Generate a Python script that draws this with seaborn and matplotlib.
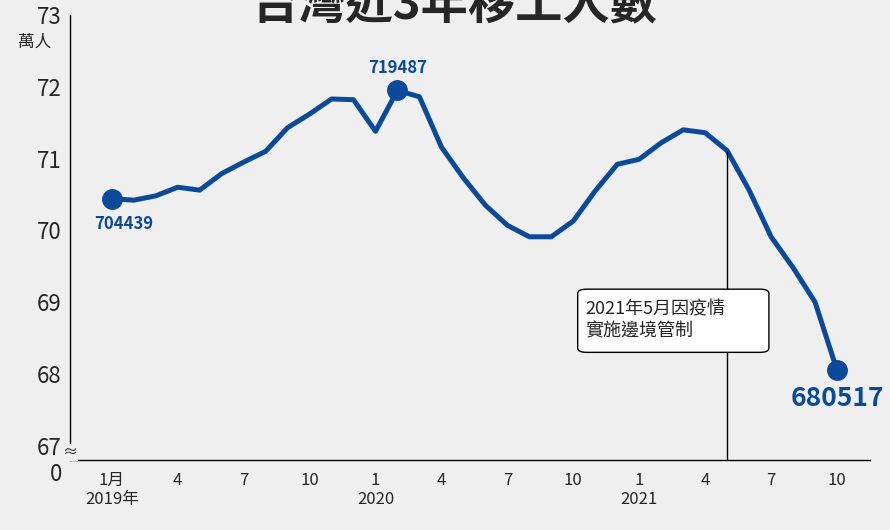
import matplotlib.pyplot as plt
import seaborn as sns
import pandas as pd
from matplotlib.patches import FancyBboxPatch

# monthly migrant worker counts, Jan 2019 - Oct 2021 (萬人)
months = list(range(34))
workers = [70.44, 70.42, 70.48, 70.60, 70.56, 70.79, 70.95, 71.10, 71.43, 71.62, 71.83, 71.82,
           71.38, 71.95, 71.86, 71.16, 70.73, 70.35, 70.07, 69.91, 69.91, 70.13, 70.55, 70.92,
           70.99, 71.22, 71.40, 71.36, 71.11, 70.56, 69.91, 69.48, 69.00, 68.05]
tick_pos = [0, 3, 6, 9, 12, 15, 18, 21, 24, 27, 30, 33]
tick_labels = ['1月\n2019年', '4', '7', '10', '1\n2020', '4', '7', '10', '1\n2021', '4', '7', '10']
highlights = {0: '704439', 13: '719487', 33: '680517'}

sns.set_theme(style='white')
plt.rcParams['font.family'] = ['Noto Sans CJK TC', 'DejaVu Sans']

blue = '#0b4a9a'
bg = '#efefef'
df = pd.DataFrame({'month': months, 'workers': workers})

fig = plt.figure(figsize=(8.9, 5.3), dpi=100, facecolor=bg)
ax = fig.add_axes([70 / 890, 70 / 530, 800 / 890, 445 / 530], facecolor=bg)
sns.lineplot(data=df, x='month', y='workers', color=blue, linewidth=3.6, ax=ax)

for i in highlights:
    ax.plot(i, workers[i], 'o', color=blue, markersize=14, zorder=5)
ax.text(-0.8, workers[0] - 0.22, highlights[0], color=blue, fontsize=12, fontweight='bold', ha='left', va='top')
ax.text(13, workers[13] + 0.18, highlights[13], color=blue, fontsize=12, fontweight='bold', ha='center', va='bottom')
ax.text(33, workers[33] - 0.2, highlights[33], color=blue, fontsize=19, fontweight='bold', ha='center', va='top')

# border control marker
ax.plot([28, 28], [66.8, workers[28]], color='black', linewidth=1)
box = FancyBboxPatch((21.2, 68.3), 8.7, 0.88, boxstyle='round,pad=0,rounding_size=0.4',
                     transform=ax.transData, facecolor='white', edgecolor='black', linewidth=1, zorder=6,
                     mutation_aspect=0.15)
ax.add_patch(box)
ax.text(21.55, 68.74, '2021年5月因疫情\n實施邊境管制', fontsize=13, va='center', ha='left', zorder=7,
        linespacing=1.3)

ax.set_xlim(-1.9, 34.5)
ax.set_ylim(66.8, 73)
ax.set_yticks(range(67, 74))
ax.set_yticklabels([str(v) for v in range(67, 74)], fontsize=16)
ax.set_xticks(tick_pos)
ax.set_xticklabels(tick_labels, fontsize=12, va='top')
ax.tick_params(axis='x', length=5, direction='out', color='black', width=1)
ax.tick_params(axis='y', length=0, pad=6)
ax.set_xlabel('')
ax.set_ylabel('')
for side in ['top', 'right']:
    ax.spines[side].set_visible(False)
for side in ['left', 'bottom']:
    ax.spines[side].set_color('black')
    ax.spines[side].set_linewidth(1)

ax.text(-2.25, 66.6, '0', fontsize=16, ha='right', va='center', clip_on=False)
ax.text(-1.9, 66.9, '≈', fontsize=11, ha='center', va='center', clip_on=False,
        bbox=dict(facecolor=bg, edgecolor='none', pad=0))
fig.text(18 / 890, 1 - 42 / 530, '萬人', fontsize=12, ha='left', va='center')
fig.text(455 / 890, 0.99, '台灣近3年移工人數', fontsize=34, fontweight='bold', ha='center', va='center')

fig.savefig('out.png', dpi=100, facecolor=bg)
